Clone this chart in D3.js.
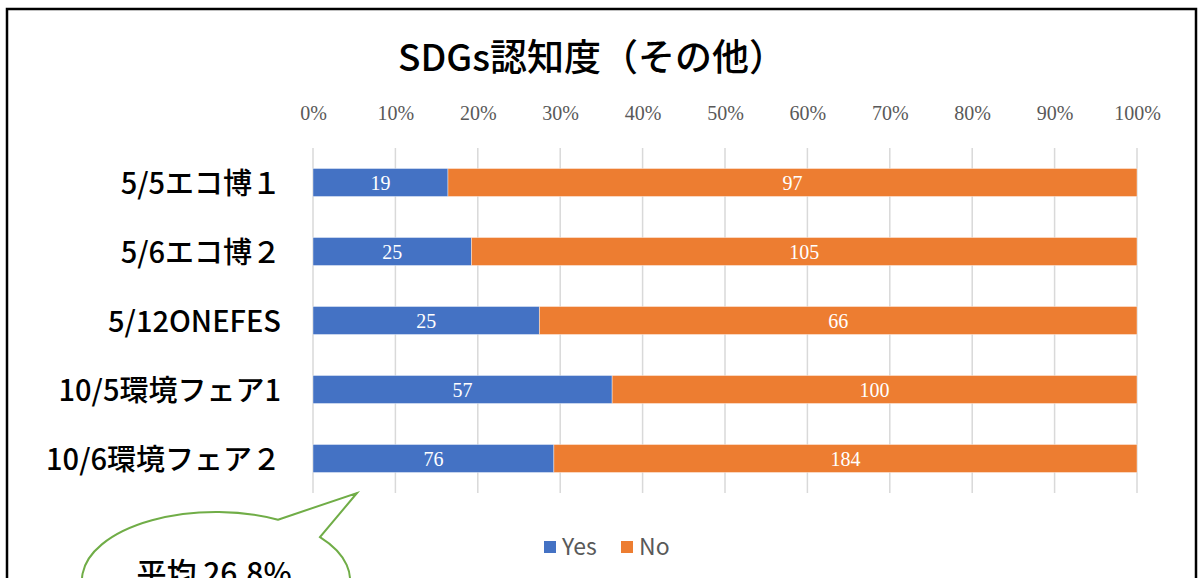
<!DOCTYPE html>
<html>
<head>
<meta charset="utf-8">
<script src="https://cdn.jsdelivr.net/npm/d3@7"></script>
<style>
  body { margin: 0; background: #fff; }
  svg { display: block; }
</style>
</head>
<body>
<svg id="chart" width="1199" height="578"></svg>
<script>
// --- Daten ---
const categories = ["5/5エコ博１", "5/6エコ博２", "5/12ONEFES", "10/5環境フェア1", "10/6環境フェア２"];
const yesValues = [19, 25, 25, 57, 76];
const noValues = [97, 105, 66, 100, 184];
const seriesNames = ["Yes", "No"];
const tickValues = [0, 0.1, 0.2, 0.3, 0.4, 0.5, 0.6, 0.7, 0.8, 0.9, 1.0];
const titleText = "SDGs認知度（その他）";
const calloutText = "平均 26.8%";

const colors = { Yes: "#4472c4", No: "#ed7d31" };

const svg = d3.select("#chart");

// Rahmen
svg.append("rect")
  .attr("x", 7).attr("y", 9)
  .attr("width", 1189).attr("height", 620)
  .attr("fill", "#fff")
  .attr("stroke", "#000")
  .attr("stroke-width", 2.5);

// Titel
svg.append("text")
  .attr("x", 592).attr("y", 71)
  .attr("text-anchor", "middle")
  .attr("font-family", "'Noto Sans CJK JP'")
  .attr("font-weight", 500)
  .attr("font-size", 37)
  .attr("fill", "#000")
  .text(titleText);

// Skalen
const x = d3.scaleLinear().domain([0, 1]).range([313, 1137]);
const y = d3.scaleBand().domain(categories).range([148, 493])
  .paddingInner(0.594).paddingOuter(0.297);

// Gitterlinien
svg.append("g")
  .selectAll("line")
  .data(tickValues)
  .join("line")
  .attr("x1", d => x(d)).attr("x2", d => x(d))
  .attr("y1", 148).attr("y2", 493)
  .attr("stroke", "#d9d9d9")
  .attr("stroke-width", 1.5);

// Obere Achse (nur Beschriftung)
const axis = svg.append("g")
  .attr("transform", "translate(0,120)")
  .call(d3.axisTop(x).tickValues(tickValues).tickFormat(d3.format(".0%")).tickSize(0).tickPadding(0));
axis.select(".domain").remove();
axis.selectAll("text")
  .attr("font-family", "'Liberation Serif'")
  .attr("font-size", 20)
  .attr("fill", "#595959");

// Stapel-Daten (100%)
const rows = categories.map((c, i) => {
  const total = yesValues[i] + noValues[i];
  return { cat: c, Yes: yesValues[i], No: noValues[i], yesShare: yesValues[i] / total, noShare: noValues[i] / total };
});
const stacked = d3.stack().keys(["yesShare", "noShare"])(rows);

const layers = svg.append("g")
  .selectAll("g")
  .data(stacked)
  .join("g")
  .attr("fill", (d, i) => colors[seriesNames[i]]);

layers.selectAll("rect")
  .data(d => d)
  .join("rect")
  .attr("x", d => x(d[0]))
  .attr("y", d => y(d.data.cat))
  .attr("width", d => x(d[1]) - x(d[0]))
  .attr("height", y.bandwidth())
  .attr("stroke", "#fff")
  .attr("stroke-opacity", 0.5)
  .attr("stroke-width", 0.8);

// Datenbeschriftungen
layers.each(function(layer, i) {
  const key = seriesNames[i];
  d3.select(this).selectAll("text")
    .data(layer)
    .join("text")
    .attr("x", d => (x(d[0]) + x(d[1])) / 2)
    .attr("y", d => y(d.data.cat) + y.bandwidth() / 2)
    .attr("dy", "0.35em")
    .attr("text-anchor", "middle")
    .attr("font-family", "'Liberation Serif'")
    .attr("font-size", 20)
    .attr("fill", "#fff")
    .text(d => d.data[key]);
});

// Kategorien
svg.append("g")
  .selectAll("text")
  .data(categories)
  .join("text")
  .attr("x", 281)
  .attr("y", d => y(d) + y.bandwidth() / 2)
  .attr("dy", "0.4em")
  .attr("text-anchor", "end")
  .attr("font-family", "'Noto Sans CJK JP'")
  .attr("font-weight", 500)
  .attr("font-size", 29)
  .attr("fill", "#000")
  .text(d => d);

// Legende
const legend = svg.append("g").attr("transform", "translate(544,547)");
const legendX = [0, 77];
seriesNames.forEach((name, i) => {
  const lg = legend.append("g").attr("transform", `translate(${legendX[i]},0)`);
  lg.append("rect").attr("x", 0).attr("y", -6).attr("width", 12).attr("height", 12).attr("fill", colors[name]);
  lg.append("text")
    .attr("x", 18).attr("y", 0).attr("dy", "0.36em")
    .attr("font-family", "'Noto Sans CJK JP'")
    .attr("font-size", 23)
    .attr("fill", "#595959")
    .text(name);
});

// Sprechblase
const cx = 216, cy = 580, rx = 134, ry = 68;
const angA = Math.acos((278 - cx) / rx), angB = Math.acos((320 - cx) / rx);
const A = [cx + rx * Math.cos(angA), cy - ry * Math.sin(angA)];
const B = [cx + rx * Math.cos(angB), cy - ry * Math.sin(angB)];
const tip = [357, 493];
svg.append("path")
  .attr("d", `M${A[0]},${A[1]} L${tip[0]},${tip[1]} L${B[0]},${B[1]} A${rx},${ry} 0 1 1 ${A[0]},${A[1]} Z`)
  .attr("fill", "#fff")
  .attr("stroke", "#70ad47")
  .attr("stroke-width", 2);

svg.append("text")
  .attr("x", 214).attr("y", 584)
  .attr("text-anchor", "middle")
  .attr("font-family", "'Noto Sans CJK JP'")
  .attr("font-weight", 500)
  .attr("font-size", 30)
  .attr("fill", "#000")
  .text(calloutText);
</script>
</body>
</html>
